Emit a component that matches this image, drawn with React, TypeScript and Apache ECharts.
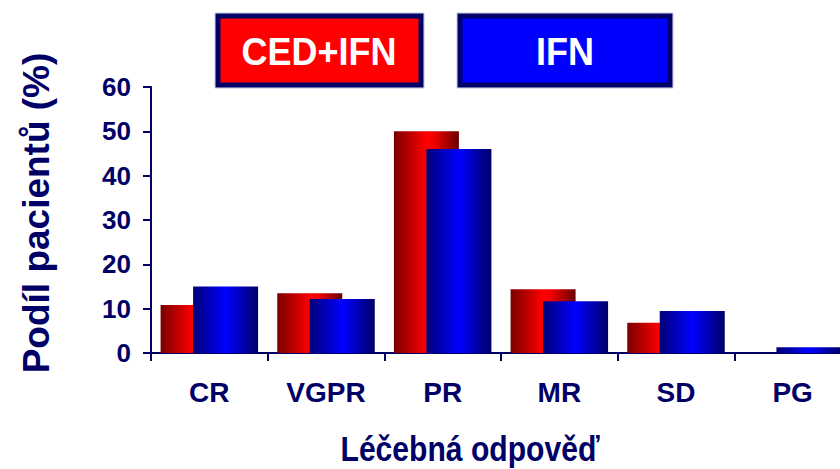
import React, { useEffect, useRef } from "react";
import * as echarts from "echarts";

const categories = ["CR", "VGPR", "PR", "MR", "SD", "PG"];
const cedIfn = [10.8, 13.5, 50, 14.4, 6.8, 0];
const ifn = [15.0, 12.2, 46.0, 11.7, 9.5, 1.3];
const yTicks = { min: 0, max: 60, interval: 10 };
const legendNames = ["CED+IFN", "IFN"];
const yAxisTitle = "Podíl pacientů (%)";
const xAxisTitle = "Léčebná odpověď";

const NAVY = "#000066";
const FONT = "Arial, 'Liberation Sans', sans-serif";

export default function App() {
  const ref = useRef<HTMLDivElement>(null);
  useEffect(() => {
    if (!ref.current) return;
    const chart = echarts.init(ref.current, undefined, { renderer: "svg" });
    const redGrad = new echarts.graphic.LinearGradient(0, 0, 1, 0, [
      { offset: 0, color: "#7a0000" },
      { offset: 0.5, color: "#ff0000" },
      { offset: 0.62, color: "#f00000" },
      { offset: 1, color: "#6a0000" },
    ]);
    const blueGrad = new echarts.graphic.LinearGradient(0, 0, 1, 0, [
      { offset: 0, color: "#000078" },
      { offset: 0.5, color: "#0000ff" },
      { offset: 1, color: "#00006a" },
    ]);
    chart.setOption({
      animation: false,
      backgroundColor: "#ffffff",
      grid: { left: 151, right: 9, top: 87, bottom: 116 },
      xAxis: {
        type: "category",
        data: categories,
        axisLine: { lineStyle: { color: NAVY, width: 2 } },
        axisTick: { show: true, length: 8, lineStyle: { color: NAVY, width: 2 } },
        axisLabel: {
          color: NAVY,
          fontFamily: FONT,
          fontWeight: "bold",
          fontSize: 28,
          margin: 25,
        },
      },
      yAxis: {
        type: "value",
        min: yTicks.min,
        max: yTicks.max,
        interval: yTicks.interval,
        splitLine: { show: false },
        axisLine: { show: true, lineStyle: { color: NAVY, width: 2 } },
        axisTick: { show: true, length: 8, lineStyle: { color: NAVY, width: 2 } },
        axisLabel: {
          color: NAVY,
          fontFamily: FONT,
          fontWeight: "bold",
          fontSize: 26,
          margin: 20,
        },
      },
      series: [
        {
          name: legendNames[0],
          type: "bar",
          data: cedIfn,
          barWidth: 65,
          barGap: "-50%",
          itemStyle: { color: redGrad },
        },
        {
          name: legendNames[1],
          type: "bar",
          data: ifn,
          barWidth: 65,
          barGap: "-50%",
          itemStyle: { color: blueGrad },
        },
      ],
      graphic: [
        { type: "rect", shape: { x: 215, y: 13, width: 209, height: 75 }, style: { fill: "none", stroke: "#c0c0e0", lineWidth: 1 } },
        { type: "rect", shape: { x: 218, y: 16, width: 203, height: 69 }, style: { fill: "#ff0000", stroke: NAVY, lineWidth: 5 } },
        {
          type: "text",
          x: 319,
          y: 51,
          scaleY: 1.1,
          style: {
            text: legendNames[0],
            fill: "#ffffff",
            font: `bold 36px ${FONT}`,
            textAlign: "center",
            textVerticalAlign: "middle",
          },
        },
        { type: "rect", shape: { x: 457, y: 13, width: 216, height: 75 }, style: { fill: "none", stroke: "#c0c0e0", lineWidth: 1 } },
        { type: "rect", shape: { x: 460, y: 16, width: 210, height: 69 }, style: { fill: "#0000ff", stroke: NAVY, lineWidth: 5 } },
        {
          type: "text",
          x: 565,
          y: 51,
          scaleY: 1.1,
          style: {
            text: legendNames[1],
            fill: "#ffffff",
            font: `bold 36px ${FONT}`,
            textAlign: "center",
            textVerticalAlign: "middle",
          },
        },
        {
          type: "text",
          x: 36,
          y: 213,
          rotation: Math.PI / 2,
          style: {
            text: yAxisTitle,
            fill: NAVY,
            font: `bold 37px ${FONT}`,
            textAlign: "center",
            textVerticalAlign: "middle",
          },
        },
        {
          type: "text",
          x: 470,
          y: 449,
          scaleX: 0.86,
          style: {
            text: xAxisTitle,
            fill: NAVY,
            font: `bold 35px ${FONT}`,
            textAlign: "center",
            textVerticalAlign: "middle",
          },
        },
      ],
    });
    return () => chart.dispose();
  }, []);
  return (
    <div style={{ position: "absolute", left: 0, top: 0, width: 840, height: 469, overflow: "hidden" }}>
      <div ref={ref} style={{ width: 860, height: 469 }} />
    </div>
  );
}
